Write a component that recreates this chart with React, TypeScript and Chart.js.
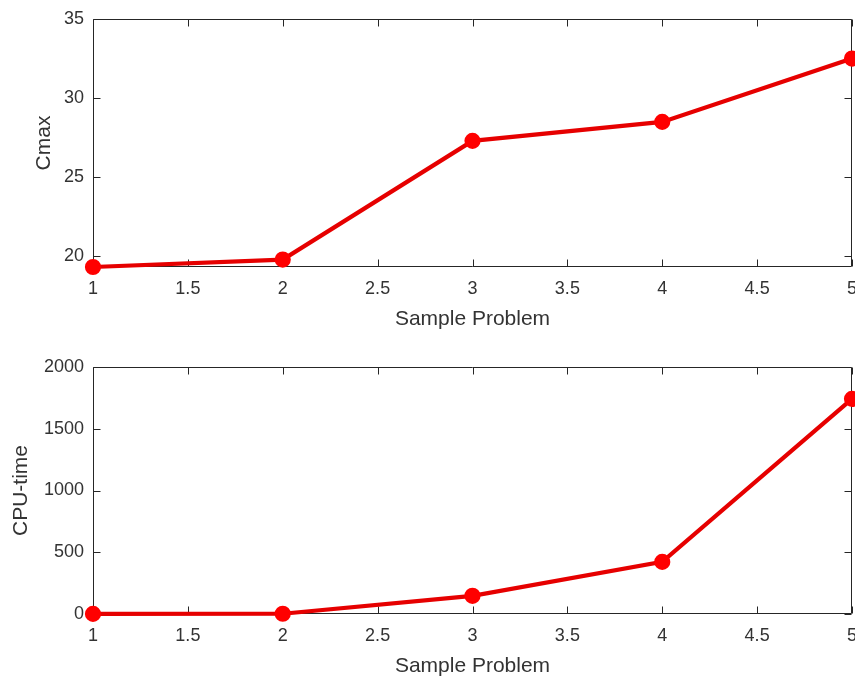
import React, { useEffect, useRef } from "react";
import { Chart, registerables } from "chart.js";

Chart.register(...registerables);

const problems = [1, 2, 3, 4, 5];
const cmaxValues = [19.33, 19.8, 27.3, 28.5, 32.5];
const cpuTimeValues = [1, 2, 147, 422, 1742];
const xTickValues = [1, 1.5, 2, 2.5, 3, 3.5, 4, 4.5, 5];
const cmaxTickValues = [20, 25, 30, 35];
const cpuTickValues = [0, 500, 1000, 1500, 2000];
const xLabel = "Sample Problem";
const cmaxLabel = "Cmax";
const cpuLabel = "CPU-time";

const FONT = "Arial, 'Liberation Sans', Helvetica, sans-serif";
const AXIS_COLOR = "#262626";
const TEXT_COLOR = "#333333";
const RED = "#e60000";

const boxPlugin = {
  id: "matlabBox",
  beforeDatasetsDraw(chart: any) {
    const { ctx, chartArea, scales } = chart;
    const { left, right, top, bottom } = chartArea;
    const x = scales.x;
    const y = scales.y;
    const len = 7;
    ctx.save();
    ctx.strokeStyle = AXIS_COLOR;
    ctx.lineWidth = 1;
    ctx.beginPath();
    const l = Math.round(left) + 0.5;
    const r = Math.round(right) - 0.5;
    const t = Math.round(top) + 0.5;
    const b = Math.round(bottom) - 0.5;
    ctx.rect(l, t, r - l, b - t);
    x.ticks.forEach((tk: any) => {
      const px = Math.round(x.getPixelForValue(tk.value)) + 0.5;
      ctx.moveTo(px, b);
      ctx.lineTo(px, b - len);
      ctx.moveTo(px, t);
      ctx.lineTo(px, t + len);
    });
    y.ticks.forEach((tk: any) => {
      const py = Math.round(y.getPixelForValue(tk.value)) + 0.5;
      ctx.moveTo(l, py);
      ctx.lineTo(l + len, py);
      ctx.moveTo(r, py);
      ctx.lineTo(r - len, py);
    });
    ctx.stroke();
    ctx.restore();
  },
};

function makeConfig(
  values: number[],
  yTicks: number[],
  yMin: number,
  yMax: number,
  yLabel: string,
  yTitlePad: number,
  xTitlePad: number,
  topPad: number,
  xAxisHeight: number
): any {
  return {
    type: "line",
    data: {
      datasets: [
        {
          data: problems.map((p, i) => ({ x: p, y: values[i] })),
          borderColor: RED,
          backgroundColor: "#ff0000",
          pointBackgroundColor: "#ff0000",
          pointBorderColor: "#ff0000",
          borderWidth: 4.2,
          pointRadius: 6,
          pointHoverRadius: 6,
          tension: 0,
          clip: false,
        },
      ],
    },
    plugins: [boxPlugin],
    options: {
      animation: false,
      responsive: false,
      devicePixelRatio: 1,
      layout: { autoPadding: false, padding: { left: 0, right: 3, top: topPad, bottom: 0 } },
      plugins: { legend: { display: false }, tooltip: { enabled: false } },
      scales: {
        x: {
          type: "linear",
          min: problems[0],
          max: problems[problems.length - 1],
          grid: { display: false, drawTicks: false },
          border: { display: false },
          afterBuildTicks: (s: any) => {
            s.ticks = xTickValues.map((v) => ({ value: v }));
          },
          afterFit: (s: any) => {
            s.height = xAxisHeight;
            s.paddingLeft = 0;
            s.paddingRight = 0;
          },
          ticks: {
            padding: 11,
            color: TEXT_COLOR,
            font: { family: FONT, size: 18 },
            maxRotation: 0,
            autoSkip: false,
            callback: (v: any) => String(v),
          },
          title: {
            display: true,
            text: xLabel,
            color: TEXT_COLOR,
            font: { family: FONT, size: 21 },
            padding: { top: 0, bottom: xTitlePad },
          },
        },
        y: {
          type: "linear",
          min: yMin,
          max: yMax,
          grid: { display: false, drawTicks: false },
          border: { display: false },
          afterBuildTicks: (s: any) => {
            s.ticks = yTicks.map((v) => ({ value: v }));
          },
          afterFit: (s: any) => {
            s.width = 93;
            s.paddingTop = 0;
            s.paddingBottom = 0;
          },
          ticks: {
            padding: 9,
            color: TEXT_COLOR,
            font: { family: FONT, size: 18 },
            autoSkip: false,
            callback: (v: any) => String(v),
          },
          title: {
            display: true,
            text: yLabel,
            color: TEXT_COLOR,
            font: { family: FONT, size: 21 },
            padding: { top: yTitlePad, bottom: 0 },
          },
        },
      },
    },
  };
}

function Panel(props: { config: any; top: number; height: number }) {
  const ref = useRef<HTMLCanvasElement | null>(null);
  useEffect(() => {
    if (!ref.current) return;
    const chart = new Chart(ref.current, props.config);
    return () => chart.destroy();
  }, []);
  return (
    <canvas
      ref={ref}
      width={855}
      height={props.height}
      style={{ position: "absolute", left: 0, top: props.top, width: 855, height: props.height }}
    />
  );
}

export default function App() {
  const topConfig = makeConfig(
    cmaxValues,
    cmaxTickValues,
    Math.min(...cmaxValues),
    35,
    cmaxLabel,
    32,
    8,
    19,
    73
  );
  const bottomConfig = makeConfig(
    cpuTimeValues,
    cpuTickValues,
    0,
    2000,
    cpuLabel,
    9,
    1,
    27,
    66
  );
  return (
    <div style={{ position: "absolute", left: 0, top: 0, width: 855, height: 680, background: "#fff", overflow: "hidden" }}>
      <Panel config={topConfig} top={0} height={340} />
      <Panel config={bottomConfig} top={340} height={340} />
    </div>
  );
}
